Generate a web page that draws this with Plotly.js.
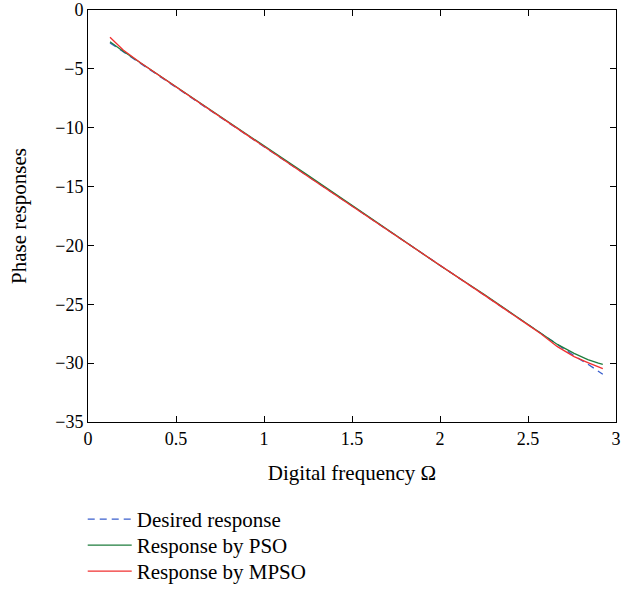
<!DOCTYPE html>
<html>
<head>
<meta charset="utf-8">
<script src="https://cdn.plot.ly/plotly-3.0.1.min.js"></script>
<style>html,body{margin:0;padding:0;background:#fff;}</style>
</head>
<body>
<div id="chart" style="width:639px;height:592px;"></div>
<script>
const freq = [0.125, 0.2, 0.3, 0.5, 0.75, 1.0, 1.25, 1.5, 1.75, 2.0, 2.25, 2.5, 2.573, 2.667, 2.762, 2.84, 2.9, 2.925];
const desired = [-2.79, -3.55, -4.55, -6.57, -9.09, -11.61, -14.13, -16.65, -19.17, -21.69, -24.21, -26.73, -27.47, -28.41, -29.37, -30.08, -30.7, -30.95];
const pso = [-2.69, -3.5, -4.5, -6.5, -9.05, -11.55, -14.05, -16.6, -19.15, -21.7, -24.15, -26.7, -27.45, -28.41, -29.17, -29.7, -30.0, -30.1];
const mpso = [-2.32, -3.4, -4.5, -6.55, -9.1, -11.6, -14.15, -16.65, -19.2, -21.7, -24.2, -26.75, -27.5, -28.6, -29.45, -29.95, -30.35, -30.47];
const names = ["Desired response", "Response by PSO", "Response by MPSO"];
const xTicks = [0, 0.5, 1, 1.5, 2, 2.5, 3];
const yTicks = [0, -5, -10, -15, -20, -25, -30, -35];

const fam = "Liberation Serif, Times New Roman, serif";
const tickFont = {family: fam, size: 18, color: "#000"};
const bigFont = {family: fam, size: 21, color: "#000"};
const traces = [
  {x: freq, y: desired, name: names[0], mode: "lines", legend: "legend", line: {color: "#3a5fcd", width: 1.3, dash: "7px,5px"}},
  {x: freq, y: pso, name: names[1], mode: "lines", legend: "legend2", line: {color: "#1e7d3c", width: 1.3}},
  {x: freq, y: mpso, name: names[2], mode: "lines", legend: "legend3", line: {color: "#f03030", width: 1.3}}
];
const axisCommon = {
  showgrid: false, zeroline: false, showline: true, mirror: "ticks",
  linecolor: "#000", linewidth: 1, ticks: "inside", ticklen: 6, tickcolor: "#000",
  tickfont: tickFont
};
const legendCommon = {x: -0.01, xanchor: "left", yanchor: "top", font: bigFont, bgcolor: "rgba(0,0,0,0)", itemwidth: 44};
const layout = {
  width: 639, height: 592,
  margin: {l: 88, r: 23, t: 10, b: 170, autoexpand: false},
  paper_bgcolor: "#fff", plot_bgcolor: "#fff",
  font: bigFont,
  showlegend: true,
  xaxis: Object.assign({}, axisCommon, {
    range: [0, 3], tickvals: xTicks, ticktext: xTicks.map(String),
    title: {text: "Digital frequency Ω", font: bigFont, standoff: 17}
  }),
  yaxis: Object.assign({}, axisCommon, {
    range: [-35, 0], tickvals: yTicks, ticktext: yTicks.map(v => v < 0 ? "\u2212" + Math.abs(v) : String(v)),
    title: {text: "Phase responses", font: bigFont, standoff: 22}
  }),
  legend: Object.assign({}, legendCommon, {y: -0.187}),
  legend2: Object.assign({}, legendCommon, {y: -0.250}),
  legend3: Object.assign({}, legendCommon, {y: -0.313})
};
Plotly.newPlot("chart", traces, layout, {displayModeBar: false, staticPlot: true});
</script>
</body>
</html>
